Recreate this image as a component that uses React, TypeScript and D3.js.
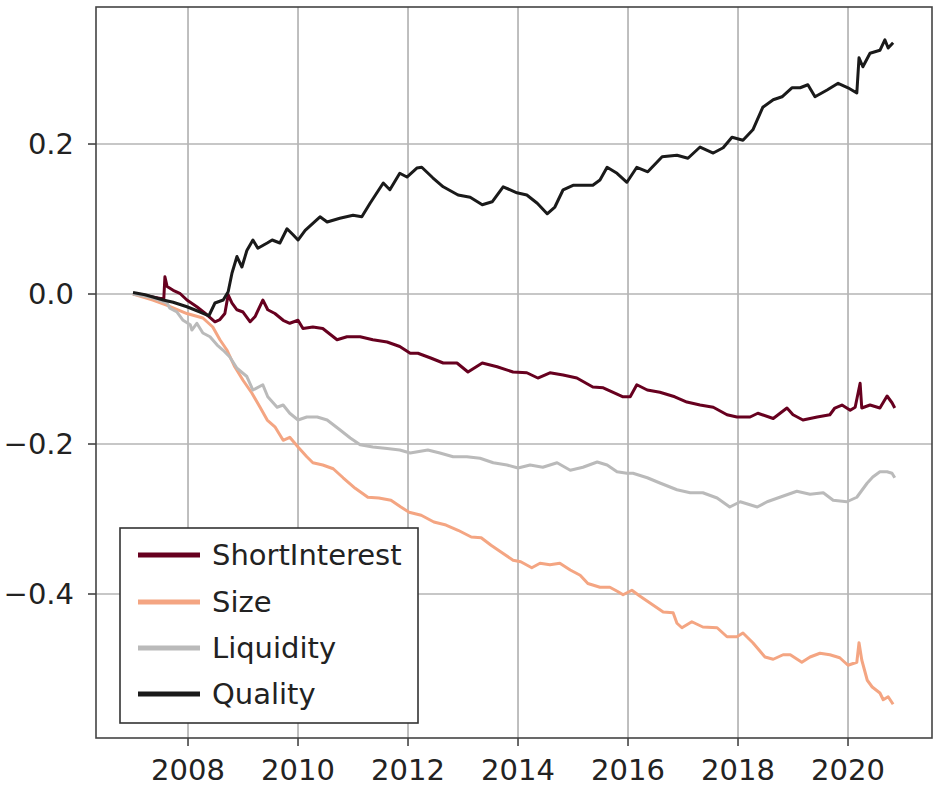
import React from 'react';
import * as d3 from 'd3';

// [decimal year, cumulative return]
const shortInterest: [number, number][] = [
  [2007.0, 0.0], [2007.22, -0.002], [2007.5, -0.006], [2007.56, -0.006], [2007.58, 0.023],
  [2007.62, 0.01], [2007.73, 0.005], [2007.85, 0.001], [2007.98, -0.008], [2008.16, -0.017],
  [2008.35, -0.028], [2008.49, -0.037], [2008.58, -0.034], [2008.67, -0.026], [2008.73, -0.001],
  [2008.8, -0.012], [2008.89, -0.021], [2009.0, -0.024], [2009.13, -0.037], [2009.22, -0.03],
  [2009.36, -0.008], [2009.45, -0.021], [2009.58, -0.026], [2009.73, -0.035], [2009.85, -0.039],
  [2010.0, -0.035], [2010.09, -0.046], [2010.27, -0.044], [2010.45, -0.046], [2010.71, -0.061],
  [2010.89, -0.057], [2011.13, -0.057], [2011.36, -0.061], [2011.62, -0.064], [2011.85, -0.07],
  [2012.04, -0.079], [2012.18, -0.079], [2012.4, -0.085], [2012.64, -0.092], [2012.89, -0.092],
  [2013.09, -0.104], [2013.35, -0.092], [2013.62, -0.097], [2013.91, -0.104], [2014.16, -0.105],
  [2014.36, -0.112], [2014.58, -0.105], [2014.82, -0.108], [2015.07, -0.112], [2015.36, -0.124],
  [2015.55, -0.125], [2015.73, -0.131], [2015.91, -0.137], [2016.04, -0.137], [2016.16, -0.121],
  [2016.35, -0.128], [2016.58, -0.131], [2016.85, -0.137], [2017.07, -0.144], [2017.31, -0.148],
  [2017.55, -0.151], [2017.8, -0.161], [2017.98, -0.164], [2018.22, -0.164], [2018.36, -0.159],
  [2018.64, -0.166], [2018.89, -0.152], [2019.0, -0.161], [2019.18, -0.168], [2019.44, -0.164],
  [2019.67, -0.161], [2019.76, -0.152], [2019.89, -0.148], [2020.04, -0.155], [2020.13, -0.151],
  [2020.22, -0.119], [2020.25, -0.152], [2020.4, -0.148], [2020.58, -0.152], [2020.71, -0.136],
  [2020.8, -0.145], [2020.85, -0.152],
];

const size: [number, number][] = [
  [2007.0, 0.0], [2007.36, -0.008], [2007.62, -0.015], [2007.98, -0.026], [2008.27, -0.032],
  [2008.45, -0.044], [2008.58, -0.061], [2008.71, -0.075], [2008.85, -0.097], [2009.0, -0.115],
  [2009.16, -0.132], [2009.31, -0.151], [2009.44, -0.168], [2009.58, -0.177], [2009.73, -0.195],
  [2009.85, -0.191], [2010.0, -0.204], [2010.16, -0.217], [2010.27, -0.225], [2010.45, -0.228],
  [2010.64, -0.233], [2010.82, -0.245], [2011.04, -0.259], [2011.27, -0.271], [2011.47, -0.272],
  [2011.69, -0.275], [2011.87, -0.284], [2012.02, -0.291], [2012.24, -0.295], [2012.47, -0.304],
  [2012.69, -0.308], [2012.91, -0.315], [2013.15, -0.324], [2013.33, -0.325], [2013.51, -0.335],
  [2013.69, -0.344], [2013.91, -0.355], [2014.05, -0.357], [2014.25, -0.365], [2014.4, -0.359],
  [2014.58, -0.361], [2014.76, -0.359], [2014.95, -0.368], [2015.13, -0.375], [2015.27, -0.386],
  [2015.49, -0.391], [2015.67, -0.391], [2015.82, -0.397], [2015.91, -0.401], [2016.07, -0.395],
  [2016.22, -0.403], [2016.4, -0.412], [2016.64, -0.424], [2016.82, -0.425], [2016.89, -0.439],
  [2016.98, -0.445], [2017.16, -0.437], [2017.36, -0.444], [2017.62, -0.445], [2017.8, -0.457],
  [2017.98, -0.457], [2018.09, -0.452], [2018.27, -0.465], [2018.49, -0.484], [2018.64, -0.487],
  [2018.82, -0.481], [2018.95, -0.481], [2019.16, -0.491], [2019.31, -0.484], [2019.49, -0.479],
  [2019.67, -0.481], [2019.85, -0.485], [2020.0, -0.495], [2020.16, -0.491], [2020.2, -0.465],
  [2020.25, -0.488], [2020.35, -0.515], [2020.44, -0.524], [2020.58, -0.532], [2020.64, -0.541],
  [2020.73, -0.537], [2020.82, -0.547],
];

const liquidity: [number, number][] = [
  [2007.0, 0.0], [2007.36, -0.005], [2007.62, -0.012], [2007.67, -0.019], [2007.8, -0.024],
  [2007.91, -0.035], [2008.04, -0.041], [2008.07, -0.048], [2008.16, -0.039], [2008.27, -0.052],
  [2008.4, -0.057], [2008.53, -0.068], [2008.64, -0.075], [2008.76, -0.084], [2008.89, -0.099],
  [2009.07, -0.11], [2009.18, -0.128], [2009.36, -0.121], [2009.45, -0.137], [2009.62, -0.151],
  [2009.73, -0.148], [2009.85, -0.159], [2010.0, -0.168], [2010.16, -0.164], [2010.35, -0.164],
  [2010.53, -0.168], [2010.76, -0.181], [2010.95, -0.192], [2011.13, -0.201], [2011.36, -0.204],
  [2011.62, -0.206], [2011.85, -0.208], [2012.04, -0.212], [2012.36, -0.208], [2012.58, -0.212],
  [2012.82, -0.217], [2013.07, -0.217], [2013.31, -0.219], [2013.55, -0.225], [2013.8, -0.228],
  [2014.0, -0.232], [2014.22, -0.228], [2014.45, -0.231], [2014.71, -0.225], [2014.95, -0.235],
  [2015.18, -0.231], [2015.44, -0.224], [2015.62, -0.228], [2015.8, -0.237], [2015.98, -0.239],
  [2016.09, -0.239], [2016.35, -0.245], [2016.58, -0.252], [2016.89, -0.261], [2017.13, -0.265],
  [2017.36, -0.265], [2017.62, -0.272], [2017.85, -0.284], [2018.04, -0.277], [2018.35, -0.284],
  [2018.53, -0.277], [2018.76, -0.271], [2019.07, -0.263], [2019.31, -0.267], [2019.55, -0.265],
  [2019.73, -0.275], [2019.98, -0.277], [2020.16, -0.271], [2020.35, -0.252], [2020.45, -0.244],
  [2020.58, -0.237], [2020.71, -0.237], [2020.8, -0.239], [2020.85, -0.245],
];

const quality: [number, number][] = [
  [2007.0, 0.002], [2007.22, -0.001], [2007.55, -0.008], [2007.73, -0.011], [2007.98, -0.017],
  [2008.22, -0.024], [2008.38, -0.029], [2008.49, -0.012], [2008.64, -0.008], [2008.73, 0.003],
  [2008.8, 0.028], [2008.89, 0.05], [2008.98, 0.036], [2009.07, 0.058], [2009.18, 0.072],
  [2009.27, 0.061], [2009.44, 0.068], [2009.53, 0.072], [2009.67, 0.068], [2009.8, 0.087],
  [2009.91, 0.079], [2010.0, 0.072], [2010.13, 0.085], [2010.4, 0.103], [2010.53, 0.096],
  [2010.76, 0.101], [2011.0, 0.105], [2011.16, 0.103], [2011.31, 0.121], [2011.55, 0.148],
  [2011.67, 0.139], [2011.85, 0.161], [2011.98, 0.156], [2012.16, 0.168], [2012.25, 0.169],
  [2012.45, 0.155], [2012.64, 0.143], [2012.91, 0.132], [2013.13, 0.129], [2013.35, 0.119],
  [2013.53, 0.123], [2013.73, 0.143], [2013.98, 0.135], [2014.16, 0.132], [2014.35, 0.121],
  [2014.53, 0.107], [2014.67, 0.116], [2014.82, 0.139], [2015.0, 0.145], [2015.16, 0.145],
  [2015.36, 0.145], [2015.49, 0.152], [2015.62, 0.169], [2015.8, 0.161], [2015.98, 0.149],
  [2016.16, 0.169], [2016.36, 0.163], [2016.62, 0.183], [2016.89, 0.185], [2017.09, 0.181],
  [2017.31, 0.196], [2017.55, 0.188], [2017.73, 0.195], [2017.89, 0.209], [2018.09, 0.205],
  [2018.27, 0.219], [2018.45, 0.249], [2018.64, 0.259], [2018.8, 0.263], [2018.98, 0.275],
  [2019.13, 0.275], [2019.27, 0.279], [2019.4, 0.263], [2019.62, 0.272], [2019.82, 0.281],
  [2020.0, 0.275], [2020.16, 0.268], [2020.2, 0.315], [2020.27, 0.303], [2020.4, 0.321],
  [2020.58, 0.325], [2020.67, 0.339], [2020.73, 0.328], [2020.82, 0.335],
];

const seriesNames = ['ShortInterest', 'Size', 'Liquidity', 'Quality'];
const seriesColors = ['#67001f', '#f4a582', '#bababa', '#1a1a1a'];
const allSeries = [shortInterest, size, liquidity, quality];

const xTicks = [2008, 2010, 2012, 2014, 2016, 2018, 2020];
const yTicks = [0.2, 0.0, -0.2, -0.4];

const W = 939;
const H = 789;
const margin = { top: 7, right: 7, bottom: 51, left: 96 };
const font = '"DejaVu Sans", sans-serif';

export default function App() {
  const x = d3
    .scaleLinear()
    .domain([2006.327, 2021.527])
    .range([margin.left, W - margin.right]);
  const y = d3
    .scaleLinear()
    .domain([-0.592, 0.3827])
    .range([H - margin.bottom, margin.top]);

  const line = d3
    .line<[number, number]>()
    .x((d) => x(d[0]))
    .y((d) => y(d[1]));

  const fmt = (v: number) => d3.format('.1f')(v).replace('-', '\u2212');

  const left = margin.left;
  const right = W - margin.right;
  const top = margin.top;
  const bottom = H - margin.bottom;

  // legend box
  const lg = { x: 120, y: 528, w: 298, h: 195 };
  const rowY = [555, 602, 648, 694];

  return (
    <svg
      width={W}
      height={H}
      style={{ position: 'absolute', left: 0, top: 0, background: '#fff' }}
    >
      <rect x={0} y={0} width={W} height={H} fill="#fff" />

      {/* grid */}
      {xTicks.map((t) => (
        <line key={'gx' + t} x1={x(t)} x2={x(t)} y1={top} y2={bottom} stroke="#b4b4b4" strokeWidth={1.7} />
      ))}
      {yTicks.map((t) => (
        <line key={'gy' + t} x1={left} x2={right} y1={y(t)} y2={y(t)} stroke="#b4b4b4" strokeWidth={1.7} />
      ))}

      {/* series */}
      {allSeries.map((s, i) => (
        <path
          key={seriesNames[i]}
          d={line(s) || ''}
          fill="none"
          stroke={seriesColors[i]}
          strokeWidth={3}
          strokeLinejoin="round"
        />
      ))}

      {/* frame */}
      <rect x={left} y={top} width={right - left} height={bottom - top} fill="none" stroke="#444" strokeWidth={1.6} />

      {/* ticks */}
      {xTicks.map((t) => (
        <g key={'tx' + t}>
          <line x1={x(t)} x2={x(t)} y1={bottom} y2={bottom + 8} stroke="#444" strokeWidth={1.6} />
          <text x={x(t)} y={bottom + 42} textAnchor="middle" fontFamily={font} fontSize={29} fill="#222">
            {t}
          </text>
        </g>
      ))}
      {yTicks.map((t) => (
        <g key={'ty' + t}>
          <line x1={left - 8} x2={left} y1={y(t)} y2={y(t)} stroke="#444" strokeWidth={1.6} />
          <text x={left - 22} y={y(t)} dy="0.36em" textAnchor="end" fontFamily={font} fontSize={29} fill="#222">
            {fmt(t)}
          </text>
        </g>
      ))}

      {/* legend */}
      <rect x={lg.x} y={lg.y} width={lg.w} height={lg.h} fill="#fff" stroke="#333" strokeWidth={1.6} />
      {seriesNames.map((n, i) => (
        <g key={'lg' + n}>
          <line x1={138} x2={200} y1={rowY[i]} y2={rowY[i]} stroke={seriesColors[i]} strokeWidth={5} />
          <text x={212} y={rowY[i]} dy="0.36em" fontFamily={font} fontSize={29} fill="#222">
            {n}
          </text>
        </g>
      ))}
    </svg>
  );
}
